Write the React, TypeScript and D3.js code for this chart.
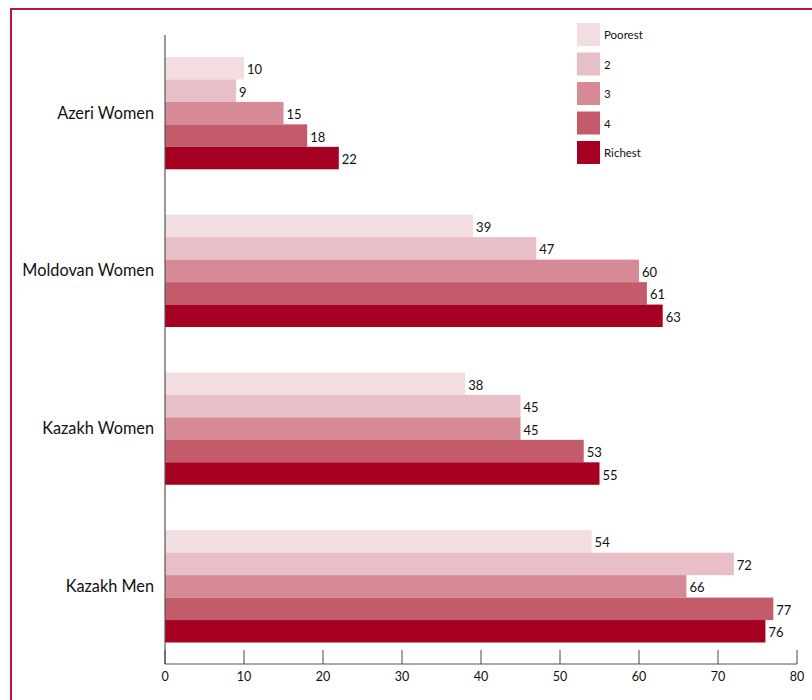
import React from "react";
import * as d3 from "d3";

const categories = ["Azeri Women", "Moldovan Women", "Kazakh Women", "Kazakh Men"];
const seriesNames = ["Poorest", "2", "3", "4", "Richest"];
const seriesColors = ["#f2dde1", "#e8bfc6", "#d58a96", "#c45b6b", "#a50021"];
const values: number[][] = [
  [10, 9, 15, 18, 22],
  [39, 47, 60, 61, 63],
  [38, 45, 45, 53, 55],
  [54, 72, 66, 77, 76],
];
const xTicks = [0, 10, 20, 30, 40, 50, 60, 70, 80];

const W = 812;
const H = 700;
const FONT = "Lato, 'DejaVu Sans', sans-serif";

export default function App() {
  const x = d3.scaleLinear().domain([0, 80]).range([165, 797]);
  const y0 = d3.scaleBand<string>().domain(categories).range([57, 642.5]).paddingInner(0.288).paddingOuter(0);
  const y1 = d3.scaleBand<string>().domain(seriesNames).range([0, y0.bandwidth()]).padding(0);
  const axisY = 664;

  return (
    <svg width={W} height={H} style={{ position: "absolute", left: 0, top: 0, background: "#fff" }} fontFamily={FONT}>
      <rect x={11} y={9} width={900} height={800} fill="none" stroke="#b8143c" strokeWidth={2} />
      {categories.map((c, ci) => (
        <g key={c} transform={`translate(0,${y0(c)})`}>
          <text x={154} y={y0.bandwidth() / 2 - 1} textAnchor="end" dominantBaseline="central" fontSize={16.3} fill="#111">
            {c}
          </text>
          {seriesNames.map((s, si) => {
            const v = values[ci][si];
            const yy = y1(s)!;
            return (
              <g key={s}>
                <rect x={x(0)} y={yy} width={x(v) - x(0)} height={y1.bandwidth()} fill={seriesColors[si]} />
                <text x={x(v) + 3} y={yy + y1.bandwidth() / 2 + 1} dominantBaseline="central" fontSize={13} fill="#111">
                  {v}
                </text>
              </g>
            );
          })}
        </g>
      ))}
      <line x1={x(0)} x2={x(0)} y1={35} y2={axisY} stroke="#555" strokeWidth={1.2} />
      <line x1={x(0)} x2={x(80)} y1={axisY} y2={axisY} stroke="#555" strokeWidth={1.2} />
      {xTicks.map((t) => (
        <g key={t}>
          <line x1={x(t)} x2={x(t)} y1={axisY - 14} y2={axisY} stroke="#444" strokeWidth={1} />
          <text x={x(t)} y={axisY + 12} textAnchor="middle" dominantBaseline="central" fontSize={12.5} fill="#111">
            {t}
          </text>
        </g>
      ))}
      {seriesNames.map((s, si) => (
        <g key={s} transform={`translate(577,${23 + si * 29.5})`}>
          <rect width={23} height={23} fill={seriesColors[si]} />
          <text x={27} y={11.5} dominantBaseline="central" fontSize={11.5} fill="#111">
            {s}
          </text>
        </g>
      ))}
    </svg>
  );
}
